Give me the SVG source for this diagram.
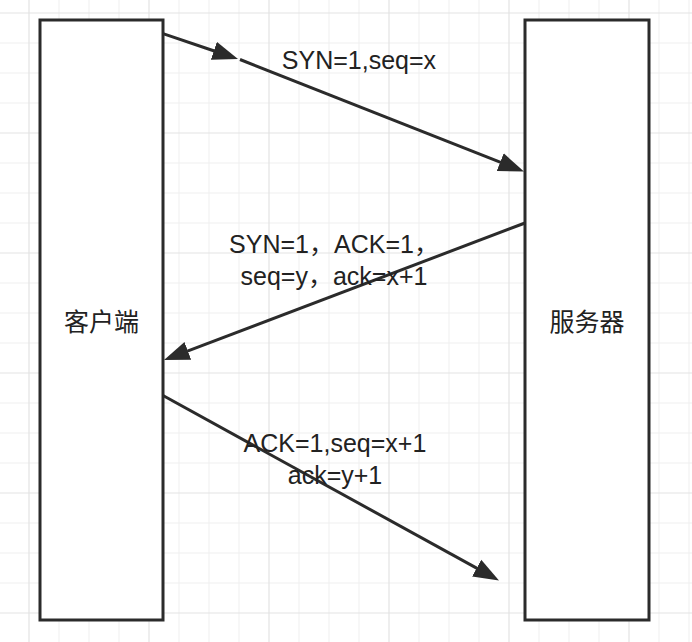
<svg xmlns="http://www.w3.org/2000/svg" width="692" height="642" viewBox="0 0 692 642">
  <style>
    .grid-light { stroke: #efefef; stroke-width: 1; fill: none; }
    .grid-dark { stroke: #e3e3e3; stroke-width: 1.2; fill: none; }
    .box { fill: #ffffff; stroke: #2b2b2b; stroke-width: 3; }
    .edge { stroke: #2b2b2b; stroke-width: 3; fill: none; }
    .lbl { font-family: "Liberation Sans", "Noto Sans CJK SC", sans-serif; font-size: 25px; fill: #222222; text-anchor: middle; }
  </style>
  <defs>
    <marker id="arrow" markerUnits="userSpaceOnUse" markerWidth="26" markerHeight="20" viewBox="0 0 26 20" refX="0.5" refY="10" orient="auto">
      <path d="M0,0.5 L25.5,10 L0,19.5 Z" fill="#2b2b2b"/>
    </marker>
  </defs>
  <rect x="0" y="0" width="692" height="642" fill="#ffffff"/>
  <g id="grid">
    <path class="grid-light" d="M59 0V642M89 0V642M119 0V642M179 0V642M209 0V642M239 0V642M299 0V642M329 0V642M359 0V642M419 0V642M449 0V642M479 0V642M539 0V642M569 0V642M599 0V642M659 0V642M689 0V642M0 43H692M0 73H692M0 103H692M0 163H692M0 193H692M0 223H692M0 283H692M0 313H692M0 343H692M0 403H692M0 433H692M0 463H692M0 523H692M0 553H692M0 583H692"/>
    <path class="grid-dark" d="M29 0V642M149 0V642M269 0V642M389 0V642M509 0V642M629 0V642M0 13H692M0 133H692M0 253H692M0 373H692M0 493H692M0 613H692"/>
  </g>
  <g id="client">
    <rect class="box" x="40" y="20" width="123" height="600"/>
    <text class="lbl" x="101.5" y="331">客户端</text>
  </g>
  <g id="server">
    <rect class="box" x="525" y="20" width="124" height="600"/>
    <text class="lbl" x="587" y="331">服务器</text>
  </g>
  <g id="connectors">
    <path class="edge" d="M163 33.7L214.3 51" marker-end="url(#arrow)"/>
    <path class="edge" d="M240 59.5L500.7 162.3" marker-end="url(#arrow)"/>
    <path class="edge" d="M525 223L187.4 351.1" marker-end="url(#arrow)"/>
    <path class="edge" d="M163 395.5L477.1 568.4" marker-end="url(#arrow)"/>
  </g>
  <g id="labels">
    <text class="lbl" x="359" y="69">SYN=1,seq=x</text>
    <text class="lbl" x="334" y="253">SYN=1，ACK=1，</text>
    <text class="lbl" x="334" y="285">seq=y，ack=x+1</text>
    <text class="lbl" x="335" y="452">ACK=1,seq=x+1</text>
    <text class="lbl" x="335" y="484">ack=y+1</text>
  </g>
</svg>
